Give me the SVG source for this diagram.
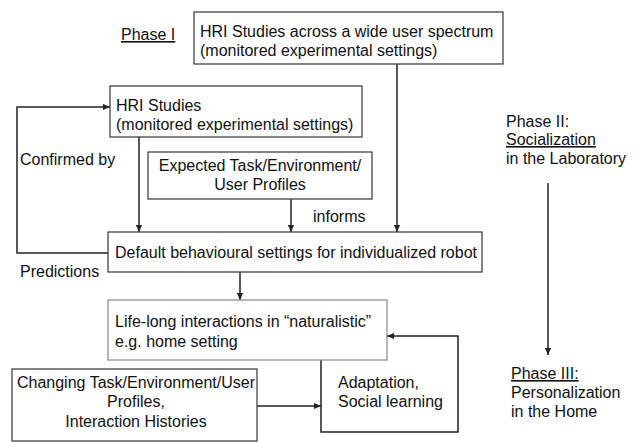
<svg xmlns="http://www.w3.org/2000/svg" width="637" height="442" viewBox="0 0 637 442">
<style>
text{font-family:"Liberation Sans",Arial,sans-serif;font-size:16px;fill:#111}
.box{fill:#fff;stroke:#333;stroke-width:1.2}
.grey{stroke:#888}
.ln{fill:none;stroke:#222;stroke-width:1.5}
.u{text-decoration:underline}
.c{text-anchor:middle}
</style>
<defs>
<marker id="ah" viewBox="0 0 8 8" refX="8" refY="4" markerWidth="7" markerHeight="7" markerUnits="userSpaceOnUse" orient="auto">
<path d="M0,0.5 L8,4 L0,7.5 Z" fill="#222"/>
</marker>
</defs>
<rect width="637" height="442" fill="#fff"/>
<g id="connectors">
<line class="ln" x1="397" y1="64" x2="397" y2="232" marker-end="url(#ah)"/>
<line class="ln" x1="139" y1="137" x2="139" y2="232" marker-end="url(#ah)"/>
<line class="ln" x1="291" y1="199" x2="291" y2="232" marker-end="url(#ah)"/>
<polyline class="ln" points="108,253 17,253 17,107 110,107" marker-end="url(#ah)"/>
<line class="ln" x1="240" y1="272" x2="240" y2="300" marker-end="url(#ah)"/>
<line class="ln" x1="257" y1="406" x2="321" y2="406" marker-end="url(#ah)"/>
<polyline class="ln" points="321,360 321,432 458,432 458,336 387,336" marker-end="url(#ah)"/>
<line class="ln" x1="548" y1="183" x2="548" y2="355" marker-end="url(#ah)"/>
</g>
<g id="phase1"><text x="121" y="40" class="u">Phase I</text></g>
<g id="hri-wide">
<rect class="box" x="194" y="12" width="309" height="52"/>
<text x="200" y="37">HRI Studies across a wide user spectrum</text>
<text x="200" y="56">(monitored experimental settings)</text>
</g>
<g id="hri">
<rect class="box" x="110" y="86" width="252" height="51"/>
<text x="116" y="111">HRI Studies</text>
<text x="116" y="130">(monitored experimental settings)</text>
</g>
<g id="expected">
<rect class="box" x="148" y="152" width="224" height="47"/>
<text x="260" y="171" class="c">Expected Task/Environment/</text>
<text x="260" y="190" class="c">User Profiles</text>
</g>
<g id="default">
<rect class="box" x="108" y="232" width="374" height="40"/>
<text x="115" y="258">Default behavioural settings for individualized robot</text>
</g>
<g id="lifelong">
<rect class="box grey" x="108" y="300" width="279" height="60"/>
<text x="115" y="327">Life-long interactions in “naturalistic”</text>
<text x="115" y="347">e.g. home setting</text>
</g>
<g id="changing">
<rect class="box" x="12" y="369" width="245" height="72"/>
<text x="136" y="388" class="c">Changing Task/Environment/User</text>
<text x="136" y="407" class="c">Profiles,</text>
<text x="136" y="427" class="c">Interaction Histories</text>
</g>
<g id="adaptation">
<text x="338" y="388">Adaptation,</text>
<text x="338" y="407">Social learning</text>
</g>
<g id="labels">
<text x="20" y="165">Confirmed by</text>
<text x="20" y="277">Predictions</text>
<text x="313" y="222">informs</text>
</g>
<g id="phase2">
<text x="506" y="127">Phase II:</text>
<text x="506" y="145" class="u">Socialization</text>
<text x="506" y="164">in the Laboratory</text>
</g>
<g id="phase3">
<text x="511" y="379" class="u">Phase III:</text>
<text x="511" y="398">Personalization</text>
<text x="511" y="417">in the Home</text>
</g>
</svg>
